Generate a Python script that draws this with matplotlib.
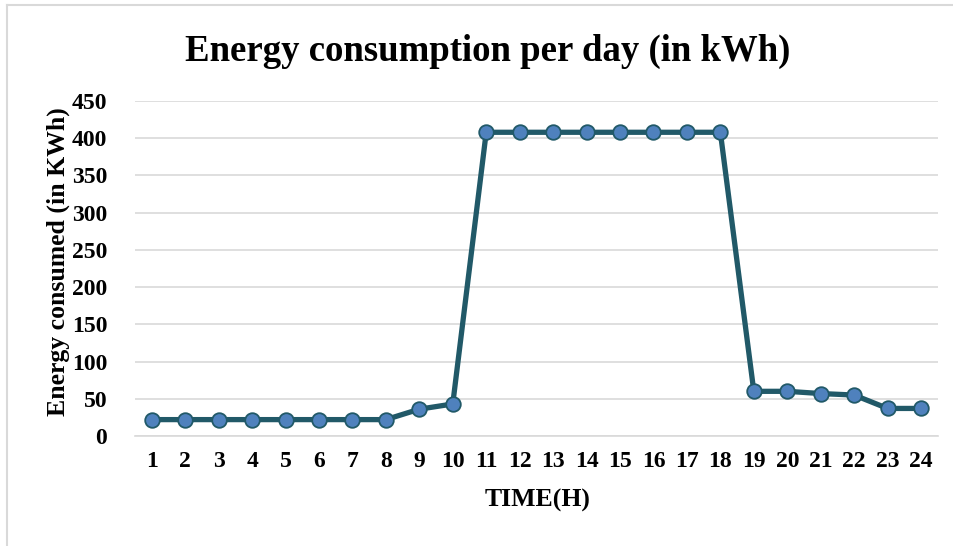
import matplotlib.pyplot as plt
from matplotlib.lines import Line2D

# data
hours = list(range(1, 25))
energy = [22, 22, 22, 22, 22, 22, 22, 22, 36, 43,
          408, 408, 408, 408, 408, 408, 408, 408,
          60, 60, 57, 55, 37, 37]
y_ticks = [0, 50, 100, 150, 200, 250, 300, 350, 400, 450]

plt.rcParams['font.family'] = 'Liberation Serif'
plt.rcParams['font.weight'] = 'bold'

fig = plt.figure(figsize=(9.54, 5.46), dpi=100)
ax = fig.add_axes([0.1415, 0.2015, 0.8415, 0.6135])

ax.plot(hours, energy, color='#215968', linewidth=3.8, marker='o',
        markersize=10.5, markerfacecolor='#4F81BD', markeredgecolor='#215968',
        markeredgewidth=1.3, zorder=3)

ax.set_xlim(0.5, 24.5)
ax.set_ylim(0, 450)
ax.set_xticks(hours)
ax.set_yticks(y_ticks)
ax.tick_params(axis='both', length=0, labelsize=17)
ax.tick_params(axis='x', pad=11)
ax.tick_params(axis='y', pad=20)
ax.grid(True, axis='y', color='#D9D9D9', linewidth=1.2)
for s in ['top', 'right', 'left']:
    ax.spines[s].set_visible(False)
ax.spines['bottom'].set_color('#D9D9D9')
ax.spines['bottom'].set_linewidth(1.2)
ax.set_axisbelow(True)

fig.text(0.511, 0.905, 'Energy consumption per day (in kWh)', ha='center', va='center',
         fontsize=26.5, fontweight='bold')
fig.text(0.563, 0.084, 'TIME(H)', ha='center', va='center', fontsize=18.5, fontweight='bold')
fig.text(0.061, 0.52, 'Energy consumed (in KWh)', ha='center', va='center',
         rotation=90, fontsize=18.5, fontweight='bold')

# thin frame lines at the left and top edge
fig.add_artist(Line2D([0.007, 0.007], [0, 0.991], color='#D9D9D9', linewidth=1.5,
                      transform=fig.transFigure))
fig.add_artist(Line2D([0.007, 1.0], [0.991, 0.991], color='#D9D9D9', linewidth=1.5,
                      transform=fig.transFigure))

plt.savefig('out.png', dpi=100)
